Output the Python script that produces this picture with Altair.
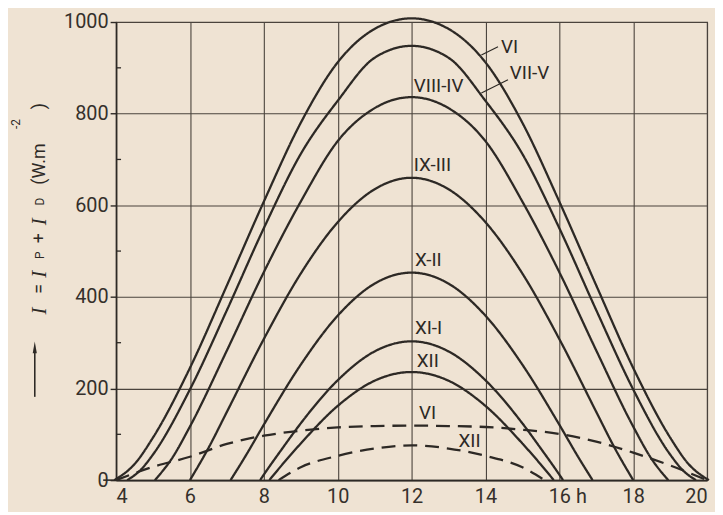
import altair as alt
import pandas as pd

# ---- data (hour of day, irradiance W/m2) ----
vi_t = [3.95, 4.5, 5, 6, 7, 8, 9, 10, 11, 12, 13, 14, 15, 16, 17, 18, 19, 19.5, 20.05]
vi_v = [0, 35, 93, 245, 425, 608, 780, 912, 985, 1008, 985, 912, 780, 608, 425, 245, 93, 35, 0]

vii_t = [4.3, 4.65, 5, 6, 7, 8, 9, 10, 11, 12, 13, 14, 15, 16, 17, 18, 19, 19.35, 19.7]
vii_v = [0, 21, 56, 198, 371, 550, 712, 828, 922, 948, 922, 828, 712, 550, 371, 198, 56, 21, 0]

viii_t = [5.05, 5.5, 6, 7, 8, 9, 10, 11, 12, 13, 14, 15, 16, 17, 18, 18.5, 18.95]
viii_v = [0, 46, 117, 283, 454, 608, 740, 812, 836, 812, 740, 608, 454, 283, 117, 46, 0]

ix_t = [6, 6.5, 7, 8, 9, 10, 11, 12, 13, 14, 15, 16, 17, 17.5, 18]
ix_v = [0, 70, 149, 308, 451, 563, 635, 660, 635, 563, 451, 308, 149, 70, 0]

x_t = [7.1, 7.5, 8, 9, 10, 11, 12, 13, 14, 15, 16, 16.5, 16.9]
x_v = [0, 52, 121, 252, 359, 429, 453, 429, 359, 252, 121, 52, 0]

xi_t = [7.9, 8, 8.5, 9, 10, 11, 12, 13, 14, 15, 15.5, 16, 16.1]
xi_v = [0, 12, 69, 124, 218, 281, 303, 281, 218, 124, 69, 12, 0]

xii_t = [8.15, 8.5, 9, 10, 11, 12, 13, 14, 15, 15.5, 15.85]
xii_v = [0, 34, 80, 162, 217, 236, 217, 162, 80, 34, 0]

dvi_t = [4, 5, 6, 7, 8, 9, 10, 11, 12, 13, 14, 15, 16, 17, 18, 19, 20]
dvi_v = [0, 29, 51, 79, 97, 108, 115, 118, 119, 118, 116, 110, 101, 84, 60, 32, 0]

dxii_t = [8.4, 9, 10, 11, 12, 13, 14, 15, 15.6]
dxii_v = [0, 28, 53, 69, 76, 69, 53, 28, 0]

series = [
    ("VI", "solid", vi_t, vi_v),
    ("VII-V", "solid", vii_t, vii_v),
    ("VIII-IV", "solid", viii_t, viii_v),
    ("IX-III", "solid", ix_t, ix_v),
    ("X-II", "solid", x_t, x_v),
    ("XI-I", "solid", xi_t, xi_v),
    ("XII", "solid", xii_t, xii_v),
    ("VI diffuse", "dashed", dvi_t, dvi_v),
    ("XII diffuse", "dashed", dxii_t, dxii_v),
]

label_text = ["VI", "VII-V", "VIII-IV", "IX-III", "X-II", "XI-I", "XII", "VI", "XII"]
label_t = [14.42, 14.66, 12.06, 12.06, 12.09, 12.09, 12.14, 12.2, 13.27]
label_v = [946, 888, 861, 688, 480, 332, 259, 147, 86]

leader_t1 = [13.89, 13.89]
leader_v1 = [928, 845]
leader_t2 = [14.34, 14.61]
leader_v2 = [946, 874]

x_ticks = [4, 6, 8, 10, 12, 14, 16, 18, 20]
y_ticks = [0, 200, 400, 600, 800, 1000]
y_minor = [100, 300, 500, 700, 900]

rows = []
for name, style, ts, vs in series:
    for t, v in zip(ts, vs):
        rows.append({"series": name, "style": style, "t": t, "v": v})
df = pd.DataFrame(rows)

ink = "#2d2925"
grid = "#4a433c"

x_enc = alt.X("t:Q", scale=alt.Scale(domain=[4, 20], nice=False, zero=False),
              axis=alt.Axis(values=x_ticks, title=None, tickSize=0, labelPadding=7,
                            labelExpr="datum.value == 16 ? '16 h' : datum.label",
                            labelOffset={"condition": {"test": "datum.value == 16", "value": 8}, "value": 0}))
y_enc = alt.Y("v:Q", scale=alt.Scale(domain=[0, 1000], nice=False),
              axis=alt.Axis(values=y_ticks, title=None, tickSize=6, labelPadding=2, format="d"))

lines = alt.Chart(df).mark_line(interpolate="monotone", strokeWidth=2.3, color=ink).encode(
    x=x_enc, y=y_enc,
    detail="series:N",
    strokeDash=alt.StrokeDash("style:N", scale=alt.Scale(domain=["solid", "dashed"], range=[[1, 0], [14, 8]]), legend=None),
)

lab_df = pd.DataFrame({"label": label_text, "t": label_t, "v": label_v})
labels = alt.Chart(lab_df).mark_text(align="left", baseline="middle", font="Roboto", fontSize=19, color=ink).encode(
    x=x_enc, y=y_enc, text="label:N")

lead_df = pd.DataFrame({"t": leader_t1, "v": leader_v1, "t2": leader_t2, "v2": leader_v2})
leaders = alt.Chart(lead_df).mark_rule(color=ink, strokeWidth=1.2).encode(
    x=x_enc, y=y_enc, x2="t2:Q", y2="v2:Q")

minor_df = pd.DataFrame({"v": y_minor})
minor = alt.Chart(minor_df).mark_rule(color=ink, strokeWidth=1.3).encode(
    y=y_enc, x=alt.value(0), x2=alt.value(5))

zero_df = pd.DataFrame({"v": [0]})
zero_tick = alt.Chart(zero_df).mark_rule(color=ink, strokeWidth=1.6).encode(
    y=y_enc, x=alt.value(-13), x2=alt.value(0))

# y-axis title pieces (rotated), positioned relative to the plot origin
# (text, start y in page px, size, font, style, vertical shift in glyph frame)
ox, oy = 117, 20
title_x = 40
pieces = [
    ("I", 315, 21, "Liberation Serif", "italic", 0),
    ("=", 294, 18, "Roboto", "normal", 0),
    ("I", 278, 21, "Liberation Serif", "italic", 0),
    ("P", 259, 12, "Roboto", "normal", 0),
    ("+", 243, 18, "Roboto", "normal", 0),
    ("I", 225, 21, "Liberation Serif", "italic", 0),
    ("D", 205, 12, "Roboto", "normal", 0),
    ("(W.m", 184, 18, "Roboto", "normal", 0),
    ("-2", 128, 12, "Roboto", "normal", -24),
    (")", 108, 18, "Roboto", "normal", 0),
]
title_layers = []
for txt, py, fs, fnt, sty, shift in pieces:
    title_layers.append(
        alt.Chart(zero_df).mark_text(text=txt, angle=270, align="left", baseline="middle", dy=shift,
                                     fontSize=fs, font=fnt, fontStyle=sty, color=ink).encode(
            x=alt.value(title_x - ox), y=alt.value(py - oy))
    )

arrow_shaft = alt.Chart(zero_df).mark_rule(color=ink, strokeWidth=1.6).encode(
    x=alt.value(35 - ox), y=alt.value(398 - oy), y2=alt.value(352 - oy))
arrow_head = alt.Chart(zero_df).mark_point(shape="M0,-1L0.35,1L-0.35,1Z", filled=True, size=140,
                                           color=ink, opacity=1).encode(
    x=alt.value(35 - ox), y=alt.value(348 - oy))

chart = alt.layer(lines, labels, leaders, minor, zero_tick, arrow_shaft, arrow_head, *title_layers).properties(
    width=596, height=462,
    autosize=alt.AutoSizeParams(type="none"),
    padding={"left": 109, "top": 12, "right": 8, "bottom": 30},
).configure(background="#efe3d3").configure_view(
    stroke=grid, strokeWidth=1.2
).configure_axis(
    gridColor=grid, gridWidth=1.1, gridOpacity=1,
    domainColor=ink, domainWidth=1.6, tickColor=ink, tickWidth=1.4,
    labelColor="#35302b", labelFont="Roboto", labelFontSize=20,
)

chart.save("out.html", embed_options={"renderer": "svg", "actions": False})
